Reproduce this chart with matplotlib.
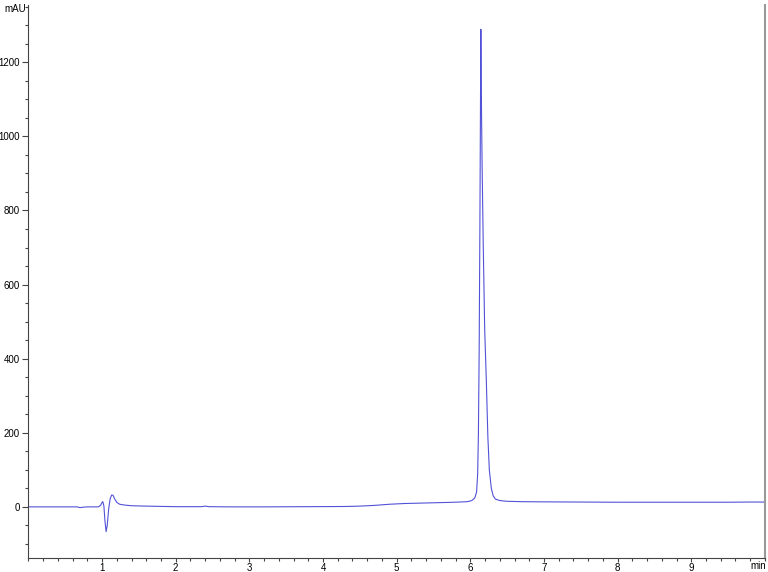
import matplotlib.pyplot as plt
from matplotlib.ticker import MultipleLocator

plt.rcParams['font.family'] = ['Liberation Sans', 'DejaVu Sans']

# chromatogram trace (min, mAU)
time_min = [0.0, 0.5, 0.66, 0.70, 0.74, 0.80, 0.95, 0.98, 1.0, 1.01, 1.025,
            1.04, 1.055, 1.07, 1.09, 1.11, 1.13, 1.15, 1.17, 1.20, 1.24,
            1.30, 1.40, 1.60, 2.0, 2.35, 2.40, 2.45, 2.7, 3.2, 3.8, 4.3,
            4.5, 4.7, 4.9, 5.1, 5.3, 5.5, 5.7, 5.85, 5.96, 6.02, 6.06,
            6.085, 6.10, 6.11, 6.12, 6.13, 6.137, 6.143, 6.149, 6.16, 6.176,
            6.195, 6.217, 6.238, 6.258, 6.285, 6.31, 6.34, 6.40, 6.50, 6.70,
            7.0, 7.5, 8.0, 8.5, 9.0, 9.5, 9.8, 10.0]
signal_mau = [0.0, 0.0, 0.0, -2.0, -1.0, 0.0, 0.0, 4.0, 12.0, 14.0, 2.0,
              -40.0, -67.0, -50.0, -5.0, 22.0, 32.0, 31.0, 22.0, 12.0, 7.0,
              5.0, 3.0, 2.0, 0.5, 0.5, 2.0, 0.5, 0.0, 0.0, 0.5, 1.0,
              2.0, 4.0, 7.0, 9.0, 10.0, 11.0, 12.0, 13.0, 14.0, 17.0, 24.0,
              40.0, 90.0, 200.0, 420.0, 760.0, 1050.0, 1289.0, 1120.0, 920.0, 700.0,
              480.0, 343.0, 190.0, 100.0, 50.0, 30.0, 21.0, 17.0, 15.0, 14.0,
              13.5, 13.0, 12.5, 12.5, 12.5, 12.5, 13.0, 13.0]

fig = plt.figure(figsize=(7.68, 5.72), dpi=100)
ax = fig.add_axes([0.0370, 0.0245, 0.959, 0.967])

ax.plot(time_min, signal_mau, color='#5252d8', lw=0.8)

ax.set_xlim(0, 10)
ax.set_ylim(-138, 1355)

ax.xaxis.set_minor_locator(MultipleLocator(0.2))
ax.yaxis.set_minor_locator(MultipleLocator(50))
ax.set_xticks(range(1, 10))
ax.set_yticks(range(0, 1400, 200))

ax.spines['top'].set_visible(False)
ax.spines['left'].set_color('#444444')
ax.spines['bottom'].set_color('#444444')
ax.spines['right'].set_color('#999999')
ax.spines['right'].set_linewidth(1.5)

ax.tick_params(axis='y', which='major', direction='out', length=4,
               width=0.8, color='#444444', labelsize=7, pad=2)
ax.tick_params(axis='x', which='major', direction='out', length=3,
               width=0.8, color='#444444', labelsize=7, pad=0.5)
ax.tick_params(axis='both', which='minor', direction='out', length=2,
               width=0.8, color='#444444')

fig.text(0.006, 0.985, 'mAU', fontsize=7, va='center', ha='left')
fig.text(0.998, 0.01, 'min', fontsize=7, va='center', ha='right')

fig.savefig('out.png', dpi=100)
